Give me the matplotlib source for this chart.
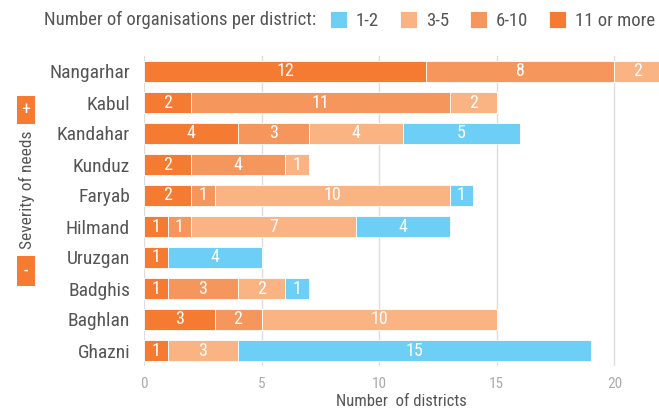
import matplotlib
matplotlib.use("Agg")
import matplotlib.pyplot as plt
from matplotlib import font_manager
from matplotlib.offsetbox import HPacker

names = sorted({f.name for f in font_manager.fontManager.ttflist})
pref = ["Liberation Sans Narrow", "Roboto Condensed", "Open Sans Condensed", "Noto Sans Condensed", "DejaVu Sans Condensed"]
family = next((p for p in pref if p in names), "DejaVu Sans")
plt.rcParams['font.family'] = [family, 'DejaVu Sans']

districts = ["Nangarhar", "Kabul", "Kandahar", "Kunduz", "Faryab", "Hilmand", "Uruzgan", "Badghis", "Baghlan", "Ghazni"]
s_11plus = [12, 2, 4, 2, 2, 1, 1, 1, 3, 1]
s_6_10 = [8, 11, 3, 4, 1, 1, 0, 3, 2, 0]
s_3_5 = [2, 2, 4, 1, 10, 7, 0, 2, 10, 3]
s_1_2 = [0, 0, 5, 0, 1, 4, 4, 1, 0, 15]
series = [("11 or more", s_11plus, "#F47B31"), ("6-10", s_6_10, "#F5975C"),
          ("3-5", s_3_5, "#FAB383"), ("1-2", s_1_2, "#6DCFF6")]
xticks = [0, 5, 10, 15, 20]

fig = plt.figure(figsize=(6.59, 4.09), dpi=100)
ax = fig.add_axes([144/659, 1-366/409, (659-144)/659, (366-56)/409])
y = list(range(len(districts)))
left = [0]*len(districts)
handles = {}
for name, vals, col in series:
    bars = ax.barh(y, vals, left=left, height=0.68, color=col, edgecolor="white", linewidth=0.6, zorder=3)
    handles[name] = bars
    for yi, v, l in zip(y, vals, left):
        if v > 0:
            ax.text(l + v/2, yi, str(v), ha="center", va="center", color="white", fontsize=13, zorder=4)
    left = [a+b for a, b in zip(left, vals)]

ax.set_xlim(0, 21.9)
ax.set_ylim(len(districts)-0.5, -0.5)
ax.set_yticks(y)
ax.set_yticklabels(districts, fontsize=14, color="#555555")
ax.set_xticks(xticks)
ax.set_xticklabels([str(t) for t in xticks], fontsize=11, color="#AAAAAA")
ax.tick_params(axis="both", length=0)
ax.tick_params(axis="y", pad=10)
ax.tick_params(axis="x", pad=8)
ax.grid(axis="x", color="#DDDDDD", linewidth=1, zorder=0)
for s in ax.spines.values():
    s.set_visible(False)
ax.set_xlabel("Number  of districts", fontsize=12, color="#555555", labelpad=2)

# legend
order = ["1-2", "3-5", "6-10", "11 or more"]
leg = fig.legend([handles[k] for k in order], order, loc="upper right", bbox_to_anchor=(1.02, 1.015),
                 ncol=4, frameon=False, fontsize=13.5, handlelength=0.9, handleheight=1.0,
                 handletextpad=0.5, columnspacing=1.1, labelcolor="#555555",
                 title="Number of organisations per district:")
leg.set_title("Number of organisations per district:", prop={"size": 13.5})
leg.get_title().set_color("#555555")
vp = leg._legend_box
children = vp.get_children()
if len(children) == 2:
    title_box, handle_box = children
    new = HPacker(pad=0, sep=10, align="center", children=[title_box, handle_box])
    vp._children = [new]

fig.text(27/659, 1-190/409, "Severity of needs", rotation=90, ha="center", va="center", fontsize=12.5, color="#555555")
fig.text(26/659, 1-110/409, "+", ha="center", va="center", fontsize=13, color="white",
         bbox=dict(boxstyle="square,pad=0.25", fc="#F47B31", ec="none"))
fig.text(26/659, 1-271/409, "-", ha="center", va="center", fontsize=13, color="white",
         bbox=dict(boxstyle="square,pad=0.35", fc="#F47B31", ec="none"))

fig.savefig("out.png", dpi=100)
